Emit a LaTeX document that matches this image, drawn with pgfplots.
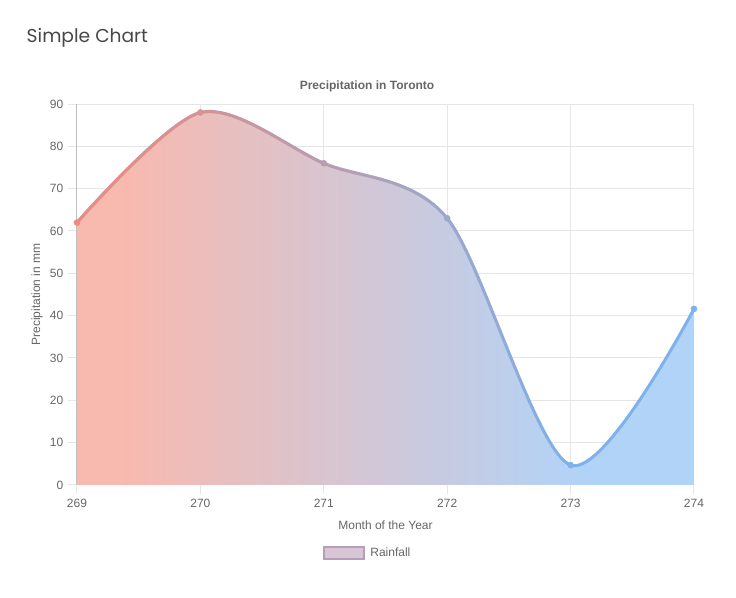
\documentclass[border=0pt]{standalone}
\usepackage{pgfplots}
\pgfplotsset{compat=1.18}
\usepackage{fontspec}
\setmainfont{Liberation Sans}
\newfontfamily\titlefont{Poppins}
\usetikzlibrary{fadings}
\definecolor{salm}{HTML}{F8B9AE}
\definecolor{blu}{HTML}{B1D3F8}
\definecolor{lsalm}{HTML}{EC8B80}
\definecolor{lblu}{HTML}{7DB2EC}
\definecolor{txt}{HTML}{666666}
\definecolor{gridc}{HTML}{E6E6E6}
\definecolor{axc}{HTML}{BFBFBF}
\definecolor{legfill}{HTML}{D8C6D6}
\definecolor{legdraw}{HTML}{B79EB8}
\pgfdeclarehorizontalshading{rain}{100bp}{color(0bp)=(salm); color(28.5bp)=(salm); color(66bp)=(blu); color(100bp)=(blu)}
\pgfdeclarehorizontalshading{lineshade}{100bp}{color(0bp)=(pgftransparent!0); color(28.5bp)=(pgftransparent!0); color(66bp)=(pgftransparent!100); color(100bp)=(pgftransparent!100)}
\pgfdeclarefading{linefade}{\pgfuseshading{lineshade}}
\pgfplotstableread{
x y
269 62
270 88
271 76
272 63
273 4.7
274 41.6
}\rain
\begin{document}
\begin{tikzpicture}
\path[use as bounding box] (0,0) rectangle (552pt,448.5pt);
\node[anchor=west, text=black!72, font=\titlefont\fontsize{14}{16}\selectfont] at (16.5pt,420pt) {Simple Chart};
\node[text=txt, font=\bfseries\fontsize{9}{11}\selectfont] at (275.25pt,384pt) {Precipitation in Toronto};
\begin{axis}[
  at={(57.75pt,84.75pt)}, anchor=origin,
  scale only axis, width=462.75pt, height=285.75pt,
  xmin=269, xmax=274, ymin=0, ymax=90,
  xtick={269,...,274}, ytick={0,10,...,90},
  axis lines*=left,
  axis line style={axc, line width=0.75pt},
  grid=major, major grid style={gridc, line width=0.75pt},
  tick align=outside, major tick length=6.75pt,
  major tick style={gridc, line width=0.75pt},
  tick label style={text=txt, font=\fontsize{9}{11}\selectfont},
  /pgf/number format/assume math mode=true,
  xlabel={Month of the Year}, ylabel={Precipitation in mm},
  label style={text=txt, font=\fontsize{9}{11}\selectfont},
  ylabel style={at={(axis description cs:-0.0648,0.5)}, anchor=center},
  xlabel style={at={(axis description cs:0.5,-0.105)}, anchor=center},
  legend style={at={(axis description cs:0.472,-0.1785)}, anchor=center, draw=none, fill=none,
    font=\fontsize{9}{11}\selectfont, text=txt},
  legend image code/.code={\draw[fill=legfill, draw=legdraw, line width=1.5pt] (0pt,-4.5pt) rectangle (30pt,4.5pt); \path (32.5pt,0pt);},
  colormap={rainmap}{color(0cm)=(lsalm) color(0.35cm)=(lsalm) color(4.1cm)=(lblu) color(5cm)=(lblu)},
  clip=false,
]
\addplot[draw=none, shade, shading=rain, smooth, forget plot] table {\rain} \closedcycle;
\addplot[lblu, line width=2.25pt, smooth, forget plot] table {\rain};
\addplot[lsalm, line width=2.25pt, smooth, path fading=linefade, forget plot] table {\rain};
\addplot[scatter, only marks, point meta=x, mark=*, mark size=2.25pt, scatter/use mapped color={draw=mapped color, fill=mapped color}, forget plot] table {\rain};
\addlegendimage{draw=none}
\addlegendentry{Rainfall}
\end{axis}
\end{tikzpicture}
\end{document}
